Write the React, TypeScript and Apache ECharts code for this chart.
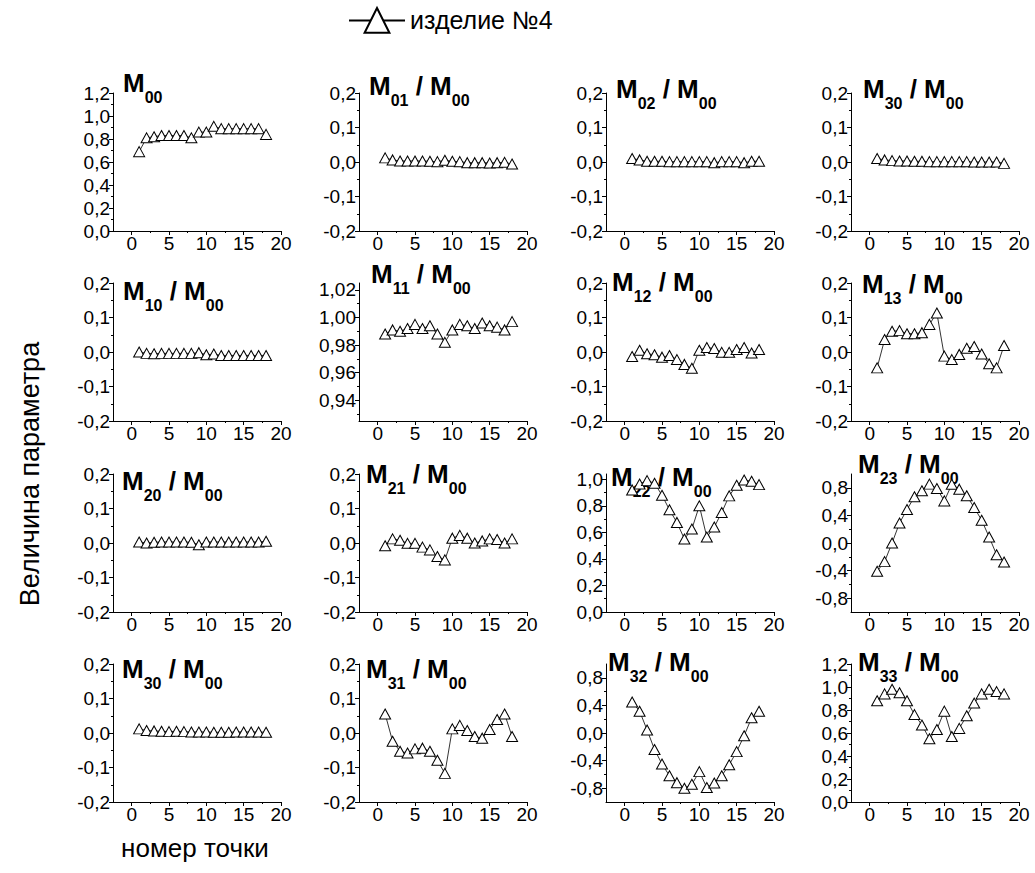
import React, { useEffect, useRef } from "react";
import * as echarts from "echarts";

const seriesName = "изделие №4";
const pointNumbers = [1, 2, 3, 4, 5, 6, 7, 8, 9, 10, 11, 12, 13, 14, 15, 16, 17, 18];

const m00 = [0.69, 0.81, 0.82, 0.83, 0.83, 0.83, 0.83, 0.81, 0.86, 0.86, 0.91, 0.89, 0.89, 0.89, 0.89, 0.89, 0.89, 0.84];
const m01 = [0.012, 0.006, 0.003, 0.003, 0.003, 0.003, 0.002, 0.001, 0.005, 0.002, 0.001, -0.002, -0.002, -0.002, -0.003, -0.002, -0.001, -0.006];
const m02 = [0.01, 0.006, 0.002, 0.002, 0.002, 0.001, 0.001, 0.001, 0.001, 0.001, 0.001, -0.002, 0.001, 0.001, 0.001, -0.002, 0.002, 0.002];
const m30a = [0.01, 0.006, 0.004, 0.003, 0.003, 0.002, 0.002, 0.001, 0.001, 0.001, 0.001, 0.001, 0.001, 0.0, 0.0, 0.0, 0.0, -0.004];
const m10 = [0.0, -0.004, -0.005, -0.004, -0.004, -0.004, -0.004, -0.004, -0.002, -0.008, -0.006, -0.01, -0.01, -0.01, -0.01, -0.01, -0.01, -0.01];
const m11 = [0.988, 0.991, 0.990, 0.992, 0.995, 0.992, 0.994, 0.988, 0.982, 0.991, 0.995, 0.994, 0.992, 0.996, 0.994, 0.993, 0.991, 0.997];
const m12 = [-0.013, 0.005, -0.005, -0.008, -0.015, -0.01, -0.022, -0.036, -0.047, 0.005, 0.013, 0.01, -0.001, -0.001, 0.007, 0.013, -0.003, 0.007];
const m13 = [-0.046, 0.036, 0.06, 0.062, 0.053, 0.053, 0.056, 0.08, 0.113, -0.012, -0.022, -0.007, 0.011, 0.016, -0.006, -0.034, -0.046, 0.019];
const m20 = [0.003, 0.0, 0.002, 0.003, 0.003, 0.003, 0.003, 0.002, -0.005, 0.003, 0.003, 0.003, 0.003, 0.003, 0.003, 0.003, 0.003, 0.005];
const m21 = [-0.008, 0.012, 0.008, -0.001, -0.001, -0.012, -0.02, -0.039, -0.049, 0.014, 0.022, 0.014, 0.0, 0.006, 0.012, 0.01, 0.0, 0.012];
const m22 = [0.92, 0.965, 0.99, 0.97, 0.88, 0.77, 0.675, 0.55, 0.625, 0.80, 0.565, 0.64, 0.75, 0.875, 0.955, 0.995, 0.985, 0.96];
const m23 = [-0.41, -0.27, 0.0, 0.29, 0.485, 0.67, 0.757, 0.853, 0.79, 0.61, 0.85, 0.78, 0.684, 0.514, 0.33, 0.087, -0.17, -0.276];
const m30b = [0.012, 0.007, 0.006, 0.005, 0.004, 0.005, 0.004, 0.003, 0.003, 0.003, 0.002, 0.002, 0.002, 0.003, 0.003, 0.003, 0.003, 0.002];
const m31 = [0.055, -0.024, -0.053, -0.058, -0.046, -0.044, -0.053, -0.079, -0.117, 0.012, 0.022, 0.007, -0.01, -0.015, 0.01, 0.039, 0.055, -0.01];
const m32 = [0.45, 0.316, 0.044, -0.24, -0.45, -0.62, -0.72, -0.8, -0.744, -0.56, -0.79, -0.725, -0.62, -0.46, -0.27, -0.04, 0.22, 0.316];
const m33 = [0.88, 0.94, 0.98, 0.95, 0.88, 0.76, 0.67, 0.55, 0.63, 0.79, 0.57, 0.64, 0.75, 0.86, 0.94, 0.98, 0.96, 0.94];

const xMajorTicks = [0, 5, 10, 15, 20];
const xMinorTicks = [2.5, 7.5, 12.5, 17.5];

const smallMajor = [-0.2, -0.1, 0, 0.1, 0.2];
const smallMinor = [-0.15, -0.05, 0.05, 0.15];
const unitMajor = [0, 0.2, 0.4, 0.6, 0.8, 1.0, 1.2];
const unitMinor = [0.1, 0.3, 0.5, 0.7, 0.9, 1.1];
const m11Major = [0.94, 0.96, 0.98, 1.0, 1.02];
const m11Minor = [0.93, 0.95, 0.97, 0.99, 1.01];
const m22Major = [0, 0.2, 0.4, 0.6, 0.8, 1.0];
const m22Minor = [0.1, 0.3, 0.5, 0.7, 0.9];
const wideMajor = [-0.8, -0.4, 0, 0.4, 0.8];
const wideMinor = [-0.6, -0.2, 0.2, 0.6];

const titleSubs: [string, string | null][] = [
  ["00", null], ["01", "00"], ["02", "00"], ["30", "00"],
  ["10", "00"], ["11", "00"], ["12", "00"], ["13", "00"],
  ["20", "00"], ["21", "00"], ["22", "00"], ["23", "00"],
  ["30", "00"], ["31", "00"], ["32", "00"], ["33", "00"],
];

const panelValues = [m00, m01, m02, m30a, m10, m11, m12, m13, m20, m21, m22, m23, m30b, m31, m32, m33];

type YSpec = { min: number; max: number; major: number[]; minor: number[]; dec: number };
const ySmall: YSpec = { min: -0.2, max: 0.2, major: smallMajor, minor: smallMinor, dec: 1 };
const yUnit: YSpec = { min: 0, max: 1.2, major: unitMajor, minor: unitMinor, dec: 1 };
const yM11: YSpec = { min: 0.925, max: 1.025, major: m11Major, minor: m11Minor, dec: 2 };
const yM22: YSpec = { min: 0, max: 1.04, major: m22Major, minor: m22Minor, dec: 1 };
const yWide: YSpec = { min: -1.0, max: 1.0, major: wideMajor, minor: wideMinor, dec: 1 };
const panelY: YSpec[] = [
  yUnit, ySmall, ySmall, ySmall,
  ySmall, yM11, ySmall, ySmall,
  ySmall, ySmall, yM22, yWide,
  ySmall, ySmall, yWide, yUnit,
];

const colLeft = [113, 359, 606, 851];
const rowTop = [93, 283, 474, 664];
const plotW = 168;
const plotH = 138;
const titleLeft = [
  123, 369, 616, 863,
  123, 371, 612, 862,
  122, 366, 611, 858,
  122, 366, 608, 858,
];
const titleCapTop = [
  74, 77, 80, 80,
  282, 265, 273, 275,
  472, 465, 468, 455,
  660, 660, 653, 653,
];

const labelFont = "'Liberation Sans', Arial, Helvetica, sans-serif";
const titleFont = "'Liberation Sans', Arial, Helvetica, sans-serif";

function fmt(v: number, dec: number) {
  let s = v.toFixed(dec);
  if (/^-0\.?0*$/.test(s)) s = s.slice(1);
  return s.replace(".", ",");
}

export default function App() {
  const ref = useRef<HTMLDivElement>(null);
  useEffect(() => {
    if (!ref.current) return;
    const chart = echarts.init(ref.current, null, { renderer: "svg" });
    const grid: any[] = [];
    const xAxis: any[] = [];
    const yAxis: any[] = [];
    const series: any[] = [];
    const titles: any[] = [];
    const axisLine = { show: true, onZero: false, lineStyle: { color: "#000", width: 1 } };
    const hiddenLine = { show: false, onZero: false };
    panelValues.forEach((vals, i) => {
      const r = Math.floor(i / 4);
      const c = i % 4;
      grid.push({ left: colLeft[c], top: rowTop[r], width: plotW, height: plotH, containLabel: false });
      xAxis.push({
        type: "value", gridIndex: i, min: -2.5, max: 20, position: "bottom",
        axisLine,
        axisTick: { show: true, customValues: xMajorTicks, length: 4, lineStyle: { color: "#000" } },
        axisLabel: { show: true, customValues: xMajorTicks, fontSize: 19, fontFamily: labelFont, color: "#000", margin: 3 },
        splitLine: { show: false },
      });
      xAxis.push({
        type: "value", gridIndex: i, min: -2.5, max: 20, position: "bottom",
        axisLine: hiddenLine,
        axisTick: { show: true, customValues: xMinorTicks, length: 2, lineStyle: { color: "#000" } },
        axisLabel: { show: false },
        splitLine: { show: false },
      });
      const ys = panelY[i];
      yAxis.push({
        type: "value", gridIndex: i, min: ys.min, max: ys.max, position: "left",
        axisLine,
        axisTick: { show: true, customValues: ys.major, length: 4, lineStyle: { color: "#000" } },
        axisLabel: {
          show: true, customValues: ys.major, fontSize: 19, fontFamily: labelFont, color: "#000", margin: 3,
          formatter: (v: number) => fmt(v, ys.dec),
        },
        splitLine: { show: false },
      });
      yAxis.push({
        type: "value", gridIndex: i, min: ys.min, max: ys.max, position: "left",
        axisLine: hiddenLine,
        axisTick: { show: true, customValues: ys.minor, length: 2, lineStyle: { color: "#000" } },
        axisLabel: { show: false },
        splitLine: { show: false },
      });
      series.push({
        type: "line", name: seriesName,
        xAxisIndex: 2 * i, yAxisIndex: 2 * i,
        data: pointNumbers.map((x, k) => [x, vals[k]]),
        symbol: "triangle", symbolSize: [11, 10], showSymbol: true, showAllSymbol: true,
        itemStyle: { color: "#fff", borderColor: "#000", borderWidth: 1 },
        lineStyle: { color: "#000", width: 0.8 },
        clip: false, silent: true,
      });
      const [num, den] = titleSubs[i];
      const text = den ? `{m|M}{s|${num}}{m| / M}{s|${den}}` : `{m|M}{s|${num}}`;
      titles.push({
        type: "text", x: titleLeft[i], y: titleCapTop[i] - 4, silent: true,
        style: {
          text,
          fontSize: 26, fontWeight: "bold", fontFamily: titleFont, fill: "#000",
          align: "left", verticalAlign: "top",
          rich: {
            m: { fontSize: 26, fontWeight: "bold", fontFamily: titleFont, fill: "#000", lineHeight: 26, verticalAlign: "top" },
            s: { fontSize: 16, fontWeight: "bold", fontFamily: titleFont, fill: "#000", lineHeight: 16, verticalAlign: "top", padding: [19, 0, 0, 0] },
          },
        },
      });
    });

    chart.setOption({
      animation: false,
      backgroundColor: "#fff",
      legend: {
        data: [seriesName], left: 348, top: 7, padding: 0,
        itemWidth: 56, itemHeight: 31,
        textStyle: { fontSize: 25, fontFamily: labelFont, color: "#000" },
        selectedMode: false,
      },
      grid, xAxis, yAxis, series,
      graphic: [
        ...titles,
        {
          type: "text", x: 30, y: 474, rotation: Math.PI / 2, silent: true,
          style: { text: "Величина параметра", fontSize: 27, fontFamily: labelFont, fill: "#000", align: "center", verticalAlign: "middle" },
        },
        {
          type: "text", x: 195, y: 848, silent: true,
          style: { text: "номер точки", fontSize: 26, fontFamily: labelFont, fill: "#000", align: "center", verticalAlign: "middle" },
        },
      ],
    });
    return () => chart.dispose();
  }, []);
  return <div ref={ref} style={{ position: "fixed", left: 0, top: 0, width: 1035, height: 873, background: "#fff" }} />;
}
